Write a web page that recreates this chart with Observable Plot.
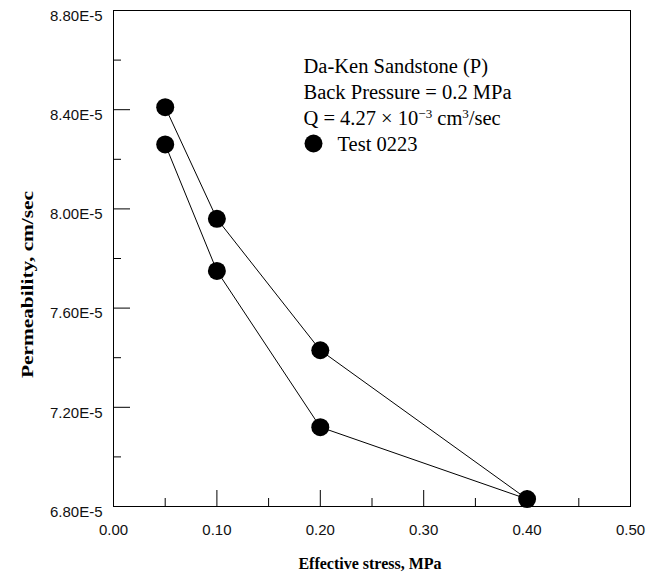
<!DOCTYPE html>
<html>
<head>
<meta charset="utf-8">
<script src="https://cdn.jsdelivr.net/npm/d3@7"></script>
<script src="https://cdn.jsdelivr.net/npm/@observablehq/plot@0.6"></script>
<style>
  html, body { margin: 0; padding: 0; background: #fff; }
</style>
</head>
<body>
<div id="chart"></div>
<script>
// Effective stress (MPa) in test order: loading up to 0.40, then unloading
const stress = [0.05, 0.10, 0.20, 0.40, 0.20, 0.10, 0.05];
// Measured permeability (cm/sec) at each step
const permeability = [8.41e-5, 7.96e-5, 7.43e-5, 6.83e-5, 7.12e-5, 7.75e-5, 8.26e-5];

// Axis ticks and labels
const xMajor = [0, 0.1, 0.2, 0.3, 0.4, 0.5];
const xLabels = ["0.00", "0.10", "0.20", "0.30", "0.40", "0.50"];
const xMinor = [0.05, 0.15, 0.25, 0.35, 0.45];
const yMajor = [6.8e-5, 7.2e-5, 7.6e-5, 8.0e-5, 8.4e-5, 8.8e-5];
const yLabels = ["6.80E-5", "7.20E-5", "7.60E-5", "8.00E-5", "8.40E-5", "8.80E-5"];
const yMinor = [7.0e-5, 7.4e-5, 7.8e-5, 8.2e-5, 8.6e-5];
const xTitle = "Effective stress, MPa";
const yTitle = "Permeability, cm/sec";

// Notes block; the flow-rate line carries superscripts
const qParts = [["Q = 4.27 × 10", false], ["−3", true], [" cm", false], ["3", true], ["/sec", false]];
const noteLines = ["Da-Ken Sandstone (P)", "Back Pressure = 0.2 MPa", qParts.map(p => p[0]).join("")];
const seriesName = "Test 0223";

const points = stress.map((x, i) => ({x, y: permeability[i]}));

const W = 660, H = 574;
const mL = 113, mR = 30, mT = 10, mB = 68;
const frameW = W - mL - mR, frameH = H - mT - mB;
const serif = "'Liberation Serif', 'Times New Roman', Times, serif";
const sans = "'Liberation Sans', Arial, Helvetica, sans-serif";
const ink = "#000";

const chart = Plot.plot({
  width: W,
  height: H,
  marginLeft: mL,
  marginRight: mR,
  marginTop: mT,
  marginBottom: mB,
  x: {domain: [0, 0.5], axis: null},
  y: {domain: [6.8e-5, 8.8e-5], axis: null},
  marks: [
    // inward-pointing ticks on the left and bottom edges
    Plot.tickY(yMajor, {y: d => d, stroke: ink, insetRight: frameW - 17}),
    Plot.tickY(yMinor, {y: d => d, stroke: ink, insetRight: frameW - 8}),
    Plot.tickX(xMajor, {x: d => d, stroke: ink, insetTop: frameH - 16}),
    Plot.tickX(xMinor, {x: d => d, stroke: ink, insetTop: frameH - 8}),
    Plot.frame({stroke: ink, strokeWidth: 1}),
    // tick labels
    Plot.text(yMajor, {y: d => d, text: (d, i) => yLabels[i], frameAnchor: "left", textAnchor: "end",
      lineAnchor: "middle", dx: -11, dy: 5.5, fontSize: 15, fontFamily: sans, fill: "#111"}),
    Plot.text(xMajor, {x: d => d, text: (d, i) => xLabels[i], frameAnchor: "bottom", lineAnchor: "middle",
      dy: 24, fontSize: 15, fontFamily: sans, fill: "#111"}),
    // axis titles
    Plot.text([xTitle], {frameAnchor: "bottom", lineAnchor: "middle", dx: -2, dy: 57, fontSize: 16,
      fontWeight: "bold", fontFamily: serif, fill: ink}),
    Plot.text([yTitle], {frameAnchor: "left", textAnchor: "middle", lineAnchor: "middle", rotate: -90,
      dx: -86, dy: 26, fontSize: 17, fontWeight: "bold", fontFamily: serif, fill: ink}),
    // the measured path
    Plot.line(points, {x: "x", y: "y", stroke: ink, strokeWidth: 1}),
    Plot.dot(points, {x: "x", y: "y", r: 9, fill: ink, stroke: "none"}),
    // notes block
    ...noteLines.map((t, i) => Plot.text([t], {frameAnchor: "top-left", textAnchor: "start", lineAnchor: "bottom",
      dx: 190, dy: 62 + 26 * i, fontSize: 20.5, fontFamily: serif, fill: ink})),
    Plot.dot([seriesName], {frameAnchor: "top-left", dx: 200, dy: 133, r: 9, fill: ink, stroke: "none"}),
    Plot.text([seriesName], {frameAnchor: "top-left", textAnchor: "start", lineAnchor: "bottom",
      dx: 224, dy: 140, fontSize: 20.5, fontFamily: serif, fill: ink})
  ]
});

const svg = d3.select(chart);

// rebuild the flow-rate line with real superscripts
svg.selectAll("text").filter(function() { return this.textContent === noteLines[2]; })
  .each(function() {
    const t = d3.select(this);
    t.text(null);
    for (const [s, sup] of qParts) {
      const span = t.append("tspan").text(s);
      if (sup) span.attr("baseline-shift", "super").attr("font-size", "13px");
    }
  });

// the vertical axis title is set wide along its run
svg.selectAll("text").filter(function() { return this.textContent === yTitle; })
  .attr("textLength", 187).attr("lengthAdjust", "spacingAndGlyphs");

document.getElementById("chart").appendChild(chart);
</script>
</body>
</html>
